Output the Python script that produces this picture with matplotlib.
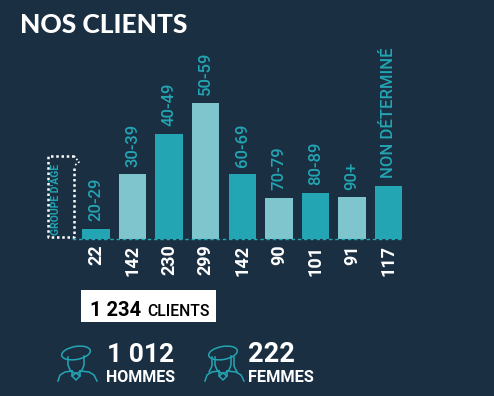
import matplotlib
matplotlib.use("Agg")
import matplotlib.pyplot as plt
from matplotlib.patches import Ellipse, Rectangle

W, H = 494, 396
BG = "#1b2f42"
TEAL = "#23a5b3"
LIGHT = "#7fc5cd"

ages = ["20-29", "30-39", "40-49", "50-59", "60-69", "70-79", "80-89", "90+", "NON DÉTERMINÉ"]
clients = [22, 142, 230, 299, 142, 90, 101, 91, 117]
bar_colors = [TEAL, LIGHT, TEAL, LIGHT, TEAL, LIGHT, TEAL, LIGHT, TEAL]

plt.rcParams['font.family'] = ['Roboto', 'DejaVu Sans']

fig = plt.figure(figsize=(W / 100, H / 100), dpi=100, facecolor=BG)

# overlay in pixels for the decoration
bg = fig.add_axes([0, 0, 1, 1])
bg.set_xlim(0, W)
bg.set_ylim(H, 0)
bg.axis("off")

ax = fig.add_axes([77.7 / W, (H - 239) / H, 329.3 / W, 146 / H])
ax.patch.set_alpha(0)
x = range(len(ages))
ax.bar(x, clients, width=0.75, color=bar_colors)
ax.set_xlim(-0.5, 8.5)
ax.set_ylim(0, 320)
ax.set_yticks([])
ax.set_xticks(list(x))
ax.set_xticklabels(clients, rotation=90, color="white", fontsize=13, fontweight="bold")
ax.tick_params(axis="x", length=0, pad=4)
for s in ["top", "left", "right"]:
    ax.spines[s].set_visible(False)
ax.spines["bottom"].set_color(TEAL)
ax.spines["bottom"].set_linewidth(1)
ax.spines["bottom"].set_linestyle((0, (1.5, 3)))
ax.spines["bottom"].set_bounds(-0.62, 8.39)

for i, age in enumerate(ages):
    ax.annotate(age, (i, clients[i]), xytext=(0, 5.5), textcoords="offset points",
                rotation=90, ha="center", va="bottom", color=TEAL, fontsize=12, fontweight=500)

# title
bg.text(20, 25, "NOS CLIENTS", color="white", fontsize=19, fontweight="black",
        family="Lato", va="center", ha="left")

# age group box
dots = dict(color="white", lw=1.8, ls=(0, (1, 1.1)))
bg.plot([74, 48, 48, 74, 74], [156, 156, 237, 237, 166], **dots)
bg.plot([74, 79, 74], [156, 162, 166], color="white", lw=1.2, ls=(0, (1, 1.2)))
bg.text(55.5, 235, "GROUPE D'ÂGE", rotation=90, color=TEAL, fontsize=7.5, fontweight="bold",
        ha="center", va="bottom")

# total
bg.add_patch(Rectangle((81, 290), 135, 32, color="white", lw=0))
bg.text(90, 310, "1 234", color="black", fontsize=14.5, fontweight="bold", va="center", ha="left")
bg.text(147, 311, "CLIENTS", color="black", fontsize=11.3, fontweight=500, va="center", ha="left")


def person(cx, female=False):
    lw = 1.1
    line = dict(color=TEAL, lw=lw)
    bg.add_patch(Ellipse((cx, 353), 29, 13, angle=-10, fill=False, ec=TEAL, lw=lw))
    # face
    bg.plot([cx - 8, cx - 8, cx - 6, cx - 2, cx + 2, cx + 6, cx + 8, cx + 8],
            [357, 365, 370, 373, 373, 370, 365, 356], **line)
    # collar
    bg.plot([cx - 4, cx - 4, cx, cx + 4, cx + 4], [371, 376, 373, 376, 371], **line)
    bg.plot([cx - 4, cx, cx + 4], [376, 380, 376], **line)
    # shoulders
    bg.plot([cx - 18, cx - 16, cx - 11, cx - 4], [381, 375, 372, 371], **line)
    bg.plot([cx + 21, cx + 18, cx + 13, cx + 4], [381, 375, 372, 371], **line)
    if female:
        bg.plot([cx - 11, cx - 11, cx - 14], [357, 366, 372], **line)
        bg.plot([cx + 11, cx + 11, cx + 14], [357, 366, 372], **line)


person(76)
person(223, female=True)

bg.text(107, 355, "1 012", color="white", fontsize=19, fontweight="bold", va="center", ha="left")
bg.text(106, 378, "HOMMES", color="white", fontsize=11.5, fontweight="bold", va="center", ha="left")
bg.text(248, 355, "222", color="white", fontsize=19.5, fontweight="bold", va="center", ha="left")
bg.text(248, 378, "FEMMES", color="white", fontsize=11.8, fontweight="bold", va="center", ha="left")

fig.savefig("out.png", dpi=100, facecolor=BG)
